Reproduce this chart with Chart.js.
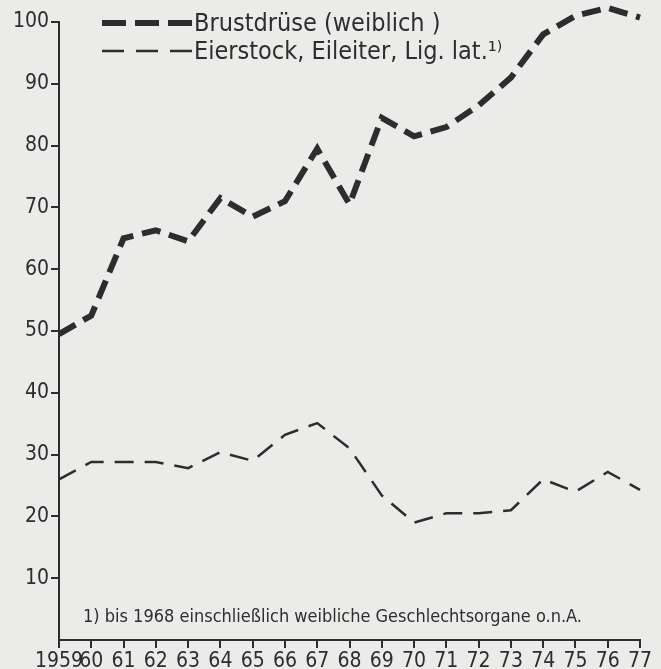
<!DOCTYPE html>
<html>
<head>
<meta charset="utf-8">
<script src="https://cdn.jsdelivr.net/npm/chart.js@4"></script>
<style>
  html, body { margin: 0; padding: 0; background: #ebebea; overflow: hidden; }
  canvas { display: block; }
</style>
</head>
<body>
<canvas id="chart" width="661" height="669"></canvas>
<script>
const years = ['1959', '60', '61', '62', '63', '64', '65', '66', '67', '68', '69', '70', '71', '72', '73', '74', '75', '76', '77']
const brustdruese = [49.5, 52.5, 65, 66.3, 64.5, 71.5, 68.5, 71, 79.5, 70.5, 84.5, 81.5, 83, 86.5, 91, 98, 101, 102.3, 100.7]
const eierstock = [26, 28.8, 28.8, 28.8, 27.8, 30.4, 29, 33.2, 35.1, 31, 23.4, 19, 20.5, 20.5, 21, 26, 24, 27.2, 24.3]
const yTicks = [10, 20, 30, 40, 50, 60, 70, 80, 90, 100]
const legendLabels = ['Brustdrüse (weiblich )', 'Eierstock, Eileiter, Lig. lat.¹⁾']
const footnote = '1) bis 1968 einschließlich weibliche Geschlechtsorgane o.n.A.'

const ink = '#2d2d2d'
const font = 'DejaVu Sans Condensed'
const dashThick = [19, 9]
const dashThin = [19, 11]
const legendDash = [[24, 9], [22, 12]]

// legend + footnote drawn on top of the plot
const notes = {
  id: 'notes',
  afterDraw(chart) {
    const ctx = chart.ctx
    ctx.save()
    chart.data.datasets.forEach((ds, i) => {
      const y = 23 + i * 28
      ctx.strokeStyle = ink
      ctx.lineWidth = ds.borderWidth
      ctx.setLineDash(legendDash[i])
      ctx.beginPath()
      ctx.moveTo(102, y)
      ctx.lineTo(192, y)
      ctx.stroke()
      ctx.setLineDash([])
      ctx.fillStyle = ink
      ctx.font = '25px "' + font + '"'
      ctx.textBaseline = 'middle'
      ctx.fillText(legendLabels[i], 194, y + 1)
    })
    ctx.font = '18px "' + font + '"'
    ctx.textBaseline = 'middle'
    ctx.fillText(footnote, 83, 617)
    ctx.restore()
  }
}

new Chart(document.getElementById('chart'), {
  type: 'line',
  data: {
    labels: years,
    datasets: [
      {
        label: legendLabels[0],
        data: brustdruese,
        borderColor: ink,
        borderWidth: 6,
        borderDash: dashThick,
        segment: { borderDash: () => dashThick },
        pointRadius: 0,
        tension: 0,
        clip: false
      },
      {
        label: legendLabels[1],
        data: eierstock,
        borderColor: ink,
        borderWidth: 2.5,
        borderDash: dashThin,
        segment: { borderDash: () => dashThin },
        pointRadius: 0,
        tension: 0,
        clip: false
      }
    ]
  },
  options: {
    responsive: false,
    animation: false,
    maintainAspectRatio: false,
    layout: { padding: { top: 22, right: 21, left: 0, bottom: 0 } },
    plugins: {
      legend: { display: false },
      tooltip: { enabled: false }
    },
    scales: {
      x: {
        type: 'category',
        offset: false,
        grid: { drawOnChartArea: false, color: ink, lineWidth: 2, tickLength: 8 },
        border: { color: ink, width: 2 },
        ticks: {
          color: ink,
          font: { family: font, size: 21 },
          maxRotation: 0,
          autoSkip: false,
          padding: 1
        },
        afterFit(scale) { scale.height = 29 }
      },
      y: {
        min: 0,
        max: 100,
        grid: { drawOnChartArea: false, color: ink, lineWidth: 2, tickLength: 8 },
        border: { color: ink, width: 2 },
        afterBuildTicks(scale) { scale.ticks = yTicks.map(v => ({ value: v })) },
        ticks: {
          color: ink,
          font: { family: font, size: 21 },
          autoSkip: false,
          padding: 2
        },
        afterFit(scale) { scale.width = 59 }
      }
    }
  },
  plugins: [notes]
})
</script>
</body>
</html>
